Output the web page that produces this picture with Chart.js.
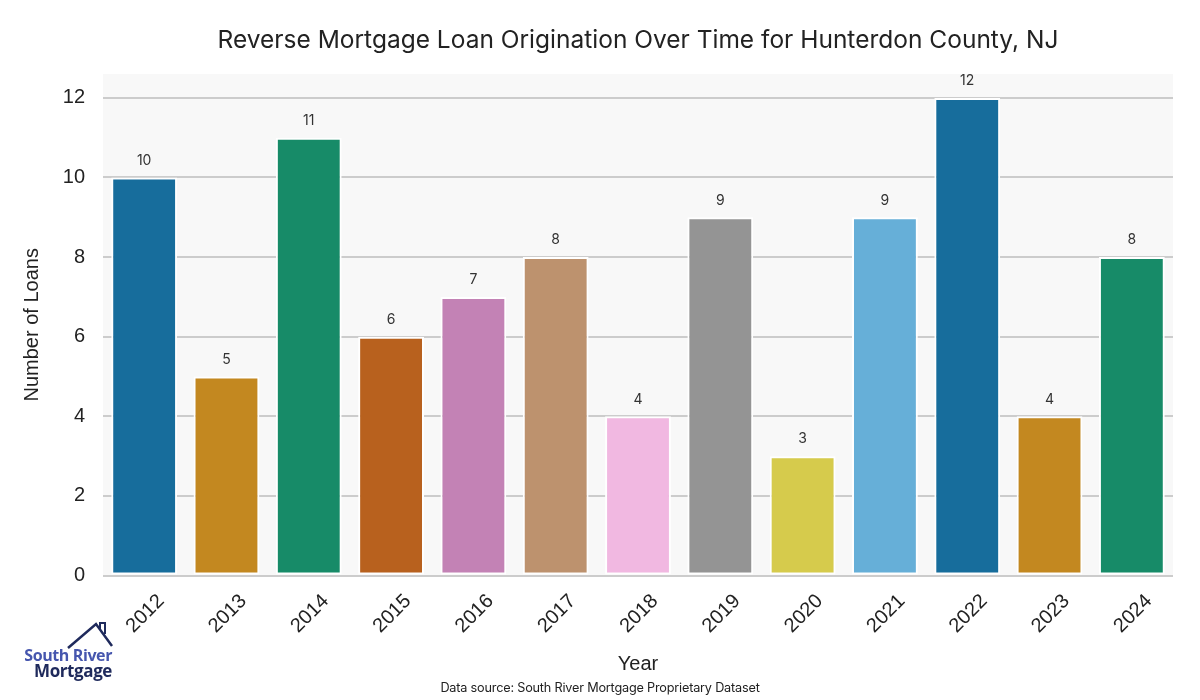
<!DOCTYPE html>
<html>
<head>
<meta charset="utf-8">
<script src="https://cdn.jsdelivr.net/npm/chart.js@4"></script>
<style>
  body { margin: 0; background: #fff; }
  #wrap { position: relative; width: 1200px; height: 700px; }
  #title { position: absolute; left: 103px; width: 1070px; top: 24px; text-align: center;
    font: 24.5px Inter, "Noto Sans", sans-serif; color: #222; white-space: nowrap; }
  #source { position: absolute; left: 0; width: 1200px; top: 680px; text-align: center;
    font: 12.7px Inter, "Noto Sans", sans-serif; color: #222; letter-spacing: -0.2px; }
  #logo { position: absolute; left: 20px; top: 620px; width: 95px; height: 60px; }
  #logo .l1 { position: absolute; right: 3px; top: 24px; font: bold 16px "Open Sans", sans-serif; color: #4656ae; letter-spacing: -0.4px; white-space: nowrap; }
  #logo .l2 { position: absolute; right: 3px; top: 39px; font: bold 17px "Open Sans", sans-serif; color: #1f2a5c; letter-spacing: -0.4px; }
</style>
</head>
<body>
<div id="wrap">
  <canvas id="chart" width="1200" height="700"></canvas>
  <div id="title">Reverse Mortgage Loan Origination Over Time for Hunterdon County, NJ</div>
  <div id="logo">
    <svg width="95" height="30" style="position:absolute;left:0;top:0">
      <polyline points="48,28 76,4 92,26" fill="none" stroke="#1f2a5c" stroke-width="2.5"/>
      <polyline points="80,9 80,3 85,3 85,14" fill="none" stroke="#1f2a5c" stroke-width="2"/>
    </svg>
    <div class="l1">South River</div>
    <div class="l2">Mortgage</div>
  </div>
  <div id="source">Data source: South River Mortgage Proprietary Dataset</div>
</div>
<script>
const years = ['2012', '2013', '2014', '2015', '2016', '2017', '2018', '2019', '2020', '2021', '2022', '2023', '2024'];
const loans = [10, 5, 11, 6, 7, 8, 4, 9, 3, 9, 12, 4, 8];
const yTicks = [0, 2, 4, 6, 8, 10, 12];
const barColors = ['#176d9c', '#c38820', '#178b68', '#b8611e', '#c382b5', '#bd926e', '#f1b8e1',
  '#949494', '#d6cb4c', '#66afd8', '#176d9c', '#c38820', '#178b68'];

// grey plot background
const plotBg = {
  id: 'plotBg',
  beforeDraw(chart) {
    const a = chart.chartArea, c = chart.ctx;
    c.save();
    c.fillStyle = '#f8f8f8';
    c.fillRect(a.left, a.top, a.right - a.left, a.bottom - a.top);
    c.restore();
  }
};

// value labels above bars
const barLabels = {
  id: 'barLabels',
  afterDatasetsDraw(chart) {
    const c = chart.ctx;
    const meta = chart.getDatasetMeta(0);
    c.save();
    c.font = '14px Inter, "Noto Sans", sans-serif';
    c.fillStyle = '#333';
    c.textAlign = 'center';
    c.textBaseline = 'bottom';
    meta.data.forEach((bar, i) => {
      c.fillText(loans[i], bar.x, bar.y - 10);
    });
    c.restore();
  }
};

const ctx = document.getElementById('chart').getContext('2d');
new Chart(ctx, {
  type: 'bar',
  data: {
    labels: years,
    datasets: [{
      label: 'Number of Loans',
      data: loans,
      backgroundColor: barColors,
      borderColor: '#ffffff',
      borderWidth: 2,
      borderSkipped: false,
      barPercentage: 0.8,
      categoryPercentage: 1.0
    }]
  },
  options: {
    responsive: false,
    animation: false,
    layout: { padding: { left: 16, right: 27, top: 74, bottom: 20 } },
    plugins: {
      legend: { display: false },
      tooltip: { enabled: false },
      title: { display: false }
    },
    scales: {
      x: {
        grid: { display: false },
        border: { display: false },
        ticks: {
          color: '#222',
          font: { family: '"Liberation Sans", Arial, sans-serif', size: 20 },
          minRotation: 45, maxRotation: 45,
          labelOffset: 17,
          padding: 6
        },
        title: {
          display: true, text: 'Year', color: '#222',
          font: { family: '"Liberation Sans", Arial, sans-serif', size: 20 },
          padding: { top: 8 }
        }
      },
      y: {
        min: 0, max: 12.6,
        afterBuildTicks(scale) { scale.ticks = yTicks.map(v => ({ value: v })); },
        afterFit(scale) { scale.width = 87; },
        grid: { color: '#cccccc', lineWidth: 2, drawTicks: false },
        border: { display: false },
        ticks: {
          color: '#222',
          font: { family: '"Liberation Sans", Arial, sans-serif', size: 20 },
          padding: 18
        },
        title: {
          display: true, text: 'Number of Loans', color: '#222',
          font: { family: '"Liberation Sans", Arial, sans-serif', size: 20 }
        }
      }
    }
  },
  plugins: [plotBg, barLabels]
});
</script>
</body>
</html>
